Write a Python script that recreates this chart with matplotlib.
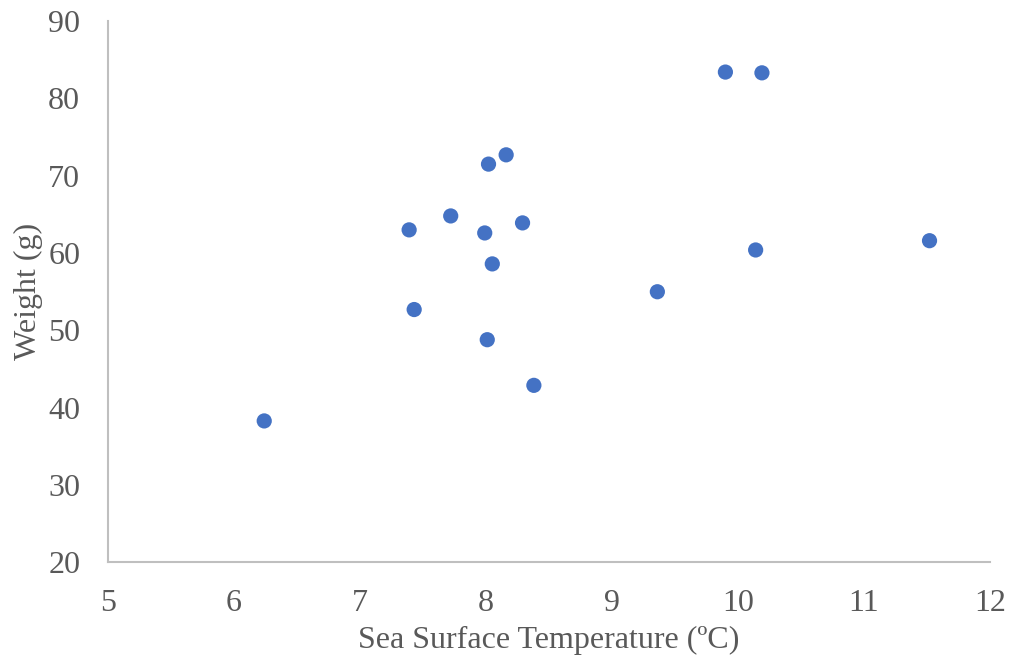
import matplotlib
matplotlib.use("Agg")
import matplotlib.pyplot as plt

# sea surface temperature (degrees C) vs. weight (g)
sst = [6.24, 7.39, 7.43, 7.72, 7.99, 8.01, 8.02, 8.05, 8.16, 8.29, 8.38,
       9.36, 9.90, 10.14, 10.19, 11.52]
weight = [38.3, 63.0, 52.7, 64.8, 62.6, 48.8, 71.5, 58.6, 72.7, 63.9, 42.9,
          55.0, 83.4, 60.4, 83.3, 61.6]

TEXT = '#595959'
AXIS = '#bfbfbf'
DOT = '#4472c4'

plt.rcParams['font.family'] = ['Liberation Serif', 'DejaVu Serif']

fig = plt.figure(figsize=(10.13, 6.67), dpi=100)
ax = fig.add_axes([0.1066, 0.1567, 0.8707, 0.8118])

ax.scatter(sst, weight, s=120, c=DOT, edgecolors='none', zorder=3)

ax.set_xlim(5, 12)
ax.set_ylim(20, 90)
ax.set_xticks(range(5, 13))
ax.set_yticks(range(20, 91, 10))

for side in ('top', 'right'):
    ax.spines[side].set_visible(False)
for side in ('left', 'bottom'):
    ax.spines[side].set_color(AXIS)
    ax.spines[side].set_linewidth(1.5)

ax.tick_params(length=0, labelsize=23, labelcolor=TEXT)
ax.tick_params(axis='x', pad=19)
ax.tick_params(axis='y', pad=20)

ax.set_xlabel('Sea Surface Temperature (ºC)', fontsize=23, color=TEXT, labelpad=6)
ax.set_ylabel('Weight (g)', fontsize=23, color=TEXT, labelpad=4)

plt.savefig('out.png', dpi=100)
